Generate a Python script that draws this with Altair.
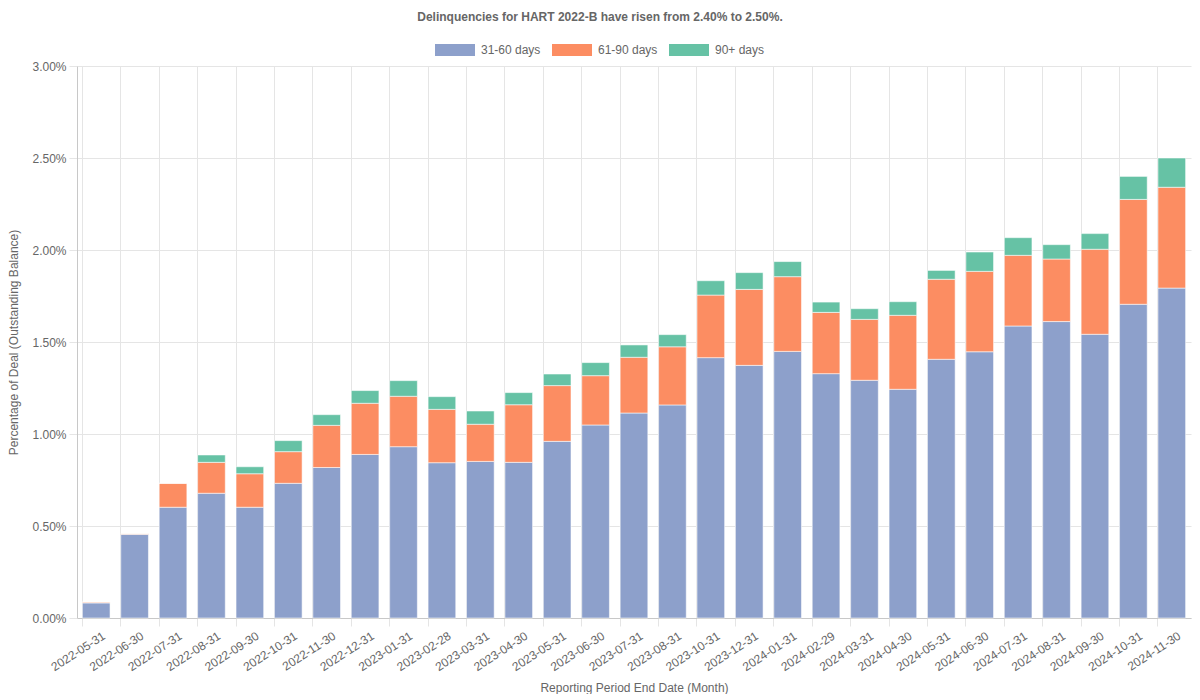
import altair as alt
import pandas as pd

dates = ["2022-05-31", "2022-06-30", "2022-07-31", "2022-08-31", "2022-09-30", "2022-10-31",
         "2022-11-30", "2022-12-31", "2023-01-31", "2023-02-28", "2023-03-31", "2023-04-30",
         "2023-05-31", "2023-06-30", "2023-07-31", "2023-08-31", "2023-10-31", "2023-12-31",
         "2024-01-31", "2024-02-29", "2024-03-31", "2024-04-30", "2024-05-31", "2024-06-30",
         "2024-07-31", "2024-08-31", "2024-09-30", "2024-10-31", "2024-11-30"]

# values in percent of outstanding balance
d31_60 = [0.082, 0.455, 0.602, 0.678, 0.602, 0.732, 0.818, 0.889, 0.931, 0.844, 0.851, 0.846,
          0.960, 1.049, 1.114, 1.158, 1.415, 1.373, 1.449, 1.328, 1.292, 1.243, 1.406, 1.447,
          1.587, 1.611, 1.542, 1.705, 1.793]
d61_90 = [0.005, 0.003, 0.130, 0.168, 0.182, 0.172, 0.229, 0.278, 0.274, 0.290, 0.202, 0.313,
          0.303, 0.268, 0.303, 0.316, 0.340, 0.413, 0.406, 0.333, 0.331, 0.402, 0.435, 0.437,
          0.384, 0.340, 0.462, 0.570, 0.548]
d90p = [0.0, 0.0, 0.0, 0.040, 0.038, 0.060, 0.058, 0.069, 0.085, 0.069, 0.072, 0.066,
        0.063, 0.071, 0.067, 0.066, 0.078, 0.091, 0.082, 0.056, 0.058, 0.074, 0.048, 0.105,
        0.096, 0.078, 0.085, 0.125, 0.159]

series_names = ["31-60 days", "61-90 days", "90+ days"]
series_colors = ["#8da0cb", "#fc8d62", "#66c2a5"]
y_ticks = [0, 0.005, 0.01, 0.015, 0.02, 0.025, 0.03]

rows = []
for i, dt in enumerate(dates):
    for k, vals in enumerate([d31_60, d61_90, d90p]):
        rows.append({"date": dt, "series": series_names[k], "ord": k, "value": vals[i] / 100.0})
df = pd.DataFrame(rows)

font = "Liberation Sans"
grey = "#666666"

chart = alt.Chart(df).mark_bar(
    stroke="#ffffff", strokeOpacity=0.55, strokeWidth=1
).encode(
    x=alt.X("date:N", sort=dates,
            scale=alt.Scale(paddingInner=0.28, paddingOuter=0.14),
            axis=alt.Axis(title="Reporting Period End Date (Month)", labelAngle=-33,
                          labelAlign="right", labelBaseline="top", labelPadding=4,
                          labelOffset=5,
                          bandPosition=0, grid=True, gridColor="#e5e5e5",
                          tickColor="#e5e5e5", tickSize=8, domainColor="#c8c8c8",
                          labelColor=grey, labelFont=font, labelFontSize=12,
                          titleColor=grey, titleFont=font, titleFontSize=12,
                          titleFontWeight="normal", titlePadding=10)),
    y=alt.Y("value:Q", stack="zero",
            scale=alt.Scale(domain=[0, 0.03], nice=False),
            axis=alt.Axis(title="Percentage of Deal (Outstanding Balance)", format=".2%",
                          values=y_ticks, grid=True, gridColor="#e5e5e5",
                          tickColor="#e5e5e5", tickSize=8, domainColor="#c8c8c8",
                          labelColor=grey, labelFont=font, labelFontSize=12, labelPadding=3,
                          titleColor=grey, titleFont=font, titleFontSize=12,
                          titleFontWeight="normal", titlePadding=11)),
    color=alt.Color("series:N", sort=series_names,
                    scale=alt.Scale(domain=series_names, range=series_colors),
                    legend=alt.Legend(title=None, orient="none", direction="horizontal",
                                      legendX=358, legendY=-36,
                                      symbolType="M-1,-0.3H1V0.3H-1Z", symbolSize=1600,
                                      symbolStrokeWidth=0, symbolOpacity=1,
                                      labelOffset=6, columnPadding=11,
                                      labelColor=grey, labelFont=font, labelFontSize=12)),
    order=alt.Order("ord:Q", sort="ascending"),
    tooltip=["date:N", "series:N", alt.Tooltip("value:Q", format=".2%")]
).properties(
    width=1114, height=552,
    title=alt.TitleParams("Delinquencies for HART 2022-B have risen from 2.40% to 2.50%.",
                          font=font, fontSize=12, fontWeight="bold", color=grey,
                          anchor="middle", dx=-34, offset=6),
    autosize=alt.AutoSizeParams(type="none"),
    padding={"left": 69, "top": 58, "right": 1, "bottom": 76}
).configure_view(stroke=None)

chart.save("out.html", embed_options={"renderer": "svg", "actions": False})
